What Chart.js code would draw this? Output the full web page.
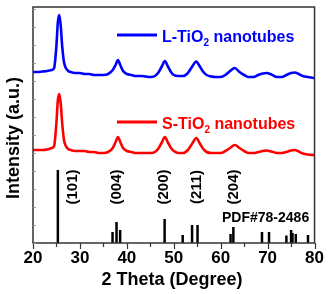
<!DOCTYPE html>
<html>
<head>
<meta charset="utf-8">
<script src="https://cdn.jsdelivr.net/npm/chart.js@4.4.0/dist/chart.umd.min.js"></script>
<style>
html,body{margin:0;padding:0;background:#fff;}
#wrap{width:329px;height:294px;position:relative;}
</style>
</head>
<body>
<div id="wrap"><canvas id="c" width="329" height="294"></canvas></div>
<script>
// 2-theta positions of the measured patterns
const twoTheta = [20,21,22,23,24,24.5,25.0,25.3,25.6,25.9,26.2,26.6,27,27.5,28,29,30,31,32,33,34,35,36,37,37.6,38.1,38.6,39.2,40,41,42,43,44,45,46,46.8,47.5,48.1,48.7,49.4,50,51,52,53,54,54.8,55.5,56.3,57,58,59,60,61,62,63,64,65,66,67,68,69,69.8,70.8,72,73,74,75,75.8,76.6,77.5,78.5,80];
// L-TiO2 nanotubes (offset intensity, a.u.)
const lTiO2 = [171,171,171.5,172,173,175,198,221,228,218,198,181,175,172,171,170,170,169,169,168,168,168,169,173,178,183,178,172,169,168,167,167,166.5,166,167,171,177,182,177,171,168,167,167,170,177,181.5,177,171,168,166.5,166,166,168,172,175,171,168,166,166,168,169.5,170,168.5,166,166,168,170,170.5,169,167,166,165];
// S-TiO2 nanotubes (offset intensity, a.u.)
const sTiO2 = [93,93,93,93.5,95,97,121,143,149,140,121,103,97,94,93,92,92,92,91,91,90,90,91,95,101,106,101,95,92,91,90,90,90,90,91,95,101,106,101,95,92,90,90,93,100,105,100,94,91,90,90,90,92,95,98,95,92,90,90,91,92,92.5,91.5,90,90,91,92.5,93,91.5,89.5,88.5,88];
// Reference pattern PDF#78-2486
const refPos = [25.3,36.95,37.8,38.57,48.05,51.9,53.9,55.06,62.1,62.7,68.8,70.3,74.0,75.0,75.3,76.0,78.6];
const refInt = [73,11,21,13,24,8,18,18,9,16,11,11,7.5,13,10,9,8];
// Peak labels
const hklLabels = ["(101)","(004)","(200)","(211)","(204)"];
const hklPos = [28.5,37.9,47.9,54.9,62.9];
const xTicks = [20,30,40,50,60,70,80];

const refData = [];
refPos.forEach((p,i)=>{ refData.push({x:p,y:0},{x:p,y:refInt[i]},{x:p,y:null}); });
const lData = twoTheta.map((x,i)=>({x:x,y:lTiO2[i]}));
const sData = twoTheta.map((x,i)=>({x:x,y:sTiO2[i]}));

const deco = {
  id:'deco',
  afterDraw(chart){
    const ctx = chart.ctx, a = chart.chartArea;
    const xs = chart.scales.x, ys = chart.scales.y;
    ctx.save();
    // frame
    ctx.strokeStyle = '#333';
    ctx.lineWidth = 1.5;
    ctx.strokeRect(a.left, a.top, a.right-a.left, a.bottom-a.top);
    // x ticks outward
    ctx.lineWidth = 1.2;
    for (let v=20; v<=80; v+=5){
      const px = Math.round(xs.getPixelForValue(v))+0.5;
      const len = (v%10===0)?6:4;
      ctx.beginPath(); ctx.moveTo(px,a.bottom); ctx.lineTo(px,a.bottom+len); ctx.stroke();
    }
    // faint inward y ticks
    ctx.strokeStyle = '#999'; ctx.lineWidth = 1;
    for (let v=0; v<=236; v+=18){
      const py = Math.round(ys.getPixelForValue(v))+0.5;
      ctx.beginPath(); ctx.moveTo(a.left,py); ctx.lineTo(a.left+3,py); ctx.stroke();
    }
    // hkl labels rotated
    ctx.fillStyle = '#000';
    ctx.font = 'bold 15px "Liberation Sans", Arial, sans-serif';
    ctx.textAlign = 'center'; ctx.textBaseline = 'middle';
    hklLabels.forEach((t,i)=>{
      const px = xs.getPixelForValue(hklPos[i]);
      ctx.save(); ctx.translate(px, 187); ctx.rotate(-Math.PI/2); ctx.fillText(t,0,0); ctx.restore();
    });
    ctx.font = 'bold 14px "Liberation Sans", Arial, sans-serif';
    ctx.textAlign = 'left'; ctx.textBaseline = 'alphabetic';
    ctx.fillText('PDF#78-2486', 222, 222);
    // legend entries
    const drawLeg = (y, color, prefix) => {
      ctx.strokeStyle = color; ctx.lineWidth = 3;
      ctx.beginPath(); ctx.moveTo(117,y); ctx.lineTo(157,y); ctx.stroke();
      ctx.fillStyle = color;
      ctx.font = 'bold 16px "Liberation Sans", Arial, sans-serif';
      const base = y+7;
      let x = 162;
      ctx.fillText(prefix+'-TiO', x, base); x += ctx.measureText(prefix+'-TiO').width;
      ctx.font = 'bold 10px "Liberation Sans", Arial, sans-serif';
      ctx.fillText('2', x, base+4); x += ctx.measureText('2').width;
      ctx.font = 'bold 16px "Liberation Sans", Arial, sans-serif';
      ctx.fillText(' nanotubes', x, base);
    };
    drawLeg(35, '#0000ff', 'L');
    drawLeg(122, '#ff0000', 'S');
    // axis titles
    ctx.fillStyle = '#000';
    ctx.font = 'bold 18px "Liberation Sans", Arial, sans-serif';
    ctx.textAlign = 'center'; ctx.textBaseline = 'middle';
    ctx.fillText('2 Theta (Degree)', 172, 280);
    ctx.save(); ctx.translate(14, 138); ctx.rotate(-Math.PI/2);
    ctx.fillText('Intensity (a.u.)', 0, 0); ctx.restore();
    ctx.restore();
  }
};

new Chart(document.getElementById('c'), {
  type:'line',
  data:{
    datasets:[
      {label:'PDF#78-2486', data:refData, borderColor:'#000', borderWidth:2.5, pointRadius:0, spanGaps:false, tension:0},
      {label:'L-TiO2 nanotubes', data:lData, borderColor:'#0000ff', borderWidth:2.6, pointRadius:0, cubicInterpolationMode:'monotone'},
      {label:'S-TiO2 nanotubes', data:sData, borderColor:'#ff0000', borderWidth:2.6, pointRadius:0, cubicInterpolationMode:'monotone'}
    ]
  },
  options:{
    responsive:false, animation:false, devicePixelRatio:1,
    layout:{padding:{top:7,right:14,left:0,bottom:0}},
    plugins:{legend:{display:false}, tooltip:{enabled:false}},
    scales:{
      x:{type:'linear', min:20, max:80,
         afterBuildTicks: s => { s.ticks = xTicks.map(v=>({value:v})); },
         grid:{display:false, drawTicks:false},
         border:{display:false},
         ticks:{color:'#000', padding:5, maxRotation:0, autoSkip:false,
                font:{family:'"Liberation Sans", Arial, sans-serif', size:17, weight:'bold'}},
         afterFit: s => { s.height = 51; }
      },
      y:{type:'linear', min:0, max:236,
         grid:{display:false, drawTicks:false}, border:{display:false},
         ticks:{display:false},
         afterFit: s => { s.width = 33; }
      }
    }
  },
  plugins:[deco]
});
</script>
</body>
</html>
